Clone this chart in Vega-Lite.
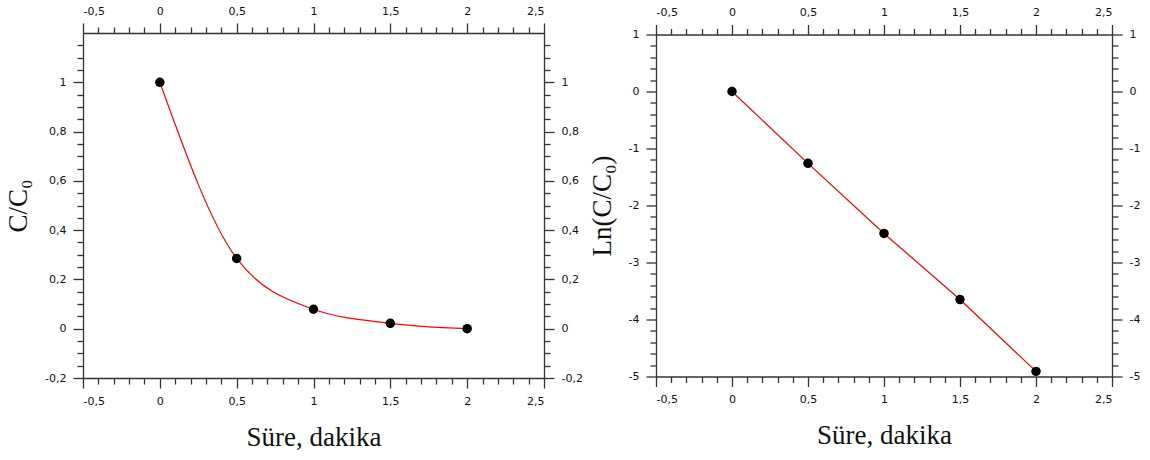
{
  "$schema": "https://vega.github.io/schema/vega-lite/v6.json",
  "background": "white",
  "autosize": {"type": "pad"},
  "padding": {"left": 4, "top": 5, "right": 0, "bottom": 0},
  "spacing": 5,
  "center": true,
  "config": {
    "view": {"stroke": null},
    "axis": {
      "grid": false,
      "domainColor": "#333333",
      "domainWidth": 1.3,
      "tickColor": "#333333",
      "tickWidth": 1.3,
      "labelColor": "#111111",
      "labelFont": "DejaVu Sans",
      "labelFontSize": 11,
      "labelPadding": 7,
      "titleFont": "Liberation Serif",
      "titleFontSize": 27,
      "titleFontWeight": "normal",
      "titleColor": "#111111"
    }
  },
  "datasets": {
    "decay": [
      {"t": 0, "c": 1.0},
      {"t": 0.5, "c": 0.285},
      {"t": 1, "c": 0.079},
      {"t": 1.5, "c": 0.022},
      {"t": 2, "c": 0.0}
    ],
    "lnDecay": [
      {"t": 0, "ln": 0.0},
      {"t": 0.5, "ln": -1.26},
      {"t": 1, "ln": -2.49},
      {"t": 1.5, "ln": -3.65},
      {"t": 2, "ln": -4.91}
    ]
  },
  "hconcat": [
    {
      "width": 461,
      "height": 345,
      "data": {"name": "decay"},
      "resolve": {"axis": {"x": "independent", "y": "independent"}},
      "layer": [
        {
          "mark": {"type": "line", "color": "#ff0000", "strokeWidth": 1.2, "interpolate": "monotone"},
          "encoding": {
            "x": {
              "field": "t", "type": "quantitative",
              "scale": {"domain": [-0.5, 2.5], "nice": false, "zero": false},
              "axis": {
                "orient": "bottom", "values": [-0.5, 0, 0.5, 1, 1.5, 2, 2.5], "tickSize": 10,
                "labelExpr": "replace(toString(datum.value), '.', ',')",
                "title": "Süre, dakika", "titlePadding": 18
              }
            },
            "y": {
              "field": "c", "type": "quantitative",
              "scale": {"domain": [-0.2, 1.2], "nice": false, "zero": false},
              "axis": {
                "orient": "left", "values": [-0.2, 0, 0.2, 0.4, 0.6, 0.8, 1], "tickSize": 10,
                "labelExpr": "replace(toString(datum.value), '.', ',')",
                "title": "C/C₀", "titlePadding": 12
              }
            }
          }
        },
        {
          "mark": {"type": "point", "filled": true, "color": "#000000", "opacity": 1, "size": 90},
          "encoding": {
            "x": {
              "field": "t", "type": "quantitative",
              "scale": {"domain": [-0.5, 2.5], "nice": false, "zero": false},
              "axis": {
                "orient": "top", "values": [-0.5, 0, 0.5, 1, 1.5, 2, 2.5], "tickSize": 10,
                "labelExpr": "replace(toString(datum.value), '.', ',')", "title": null
              }
            },
            "y": {
              "field": "c", "type": "quantitative",
              "scale": {"domain": [-0.2, 1.2], "nice": false, "zero": false},
              "axis": {
                "orient": "right", "values": [-0.2, 0, 0.2, 0.4, 0.6, 0.8, 1], "tickSize": 10,
                "labelExpr": "replace(toString(datum.value), '.', ',')", "title": null
              }
            }
          }
        },
        {
          "mark": {"type": "point", "opacity": 0},
          "encoding": {
            "x": {
              "field": "t", "type": "quantitative",
              "scale": {"domain": [-0.5, 2.5], "nice": false, "zero": false},
              "axis": {
                "orient": "bottom", "domain": false, "labels": false, "title": null, "tickSize": 6,
                "values": [-0.4, -0.3, -0.2, -0.1, 0.1, 0.2, 0.3, 0.4, 0.6, 0.7, 0.8, 0.9, 1.1, 1.2, 1.3, 1.4, 1.6, 1.7, 1.8, 1.9, 2.1, 2.2, 2.3, 2.4]
              }
            },
            "y": {
              "field": "c", "type": "quantitative",
              "scale": {"domain": [-0.2, 1.2], "nice": false, "zero": false},
              "axis": {
                "orient": "left", "domain": false, "labels": false, "title": null, "tickSize": 6,
                "values": [-0.15, -0.1, -0.05, 0.05, 0.1, 0.15, 0.25, 0.3, 0.35, 0.45, 0.5, 0.55, 0.65, 0.7, 0.75, 0.85, 0.9, 0.95, 1.05, 1.1, 1.15]
              }
            }
          }
        },
        {
          "mark": {"type": "point", "opacity": 0},
          "encoding": {
            "x": {
              "field": "t", "type": "quantitative",
              "scale": {"domain": [-0.5, 2.5], "nice": false, "zero": false},
              "axis": {
                "orient": "top", "domain": false, "labels": false, "title": null, "tickSize": 6,
                "values": [-0.4, -0.3, -0.2, -0.1, 0.1, 0.2, 0.3, 0.4, 0.6, 0.7, 0.8, 0.9, 1.1, 1.2, 1.3, 1.4, 1.6, 1.7, 1.8, 1.9, 2.1, 2.2, 2.3, 2.4]
              }
            },
            "y": {
              "field": "c", "type": "quantitative",
              "scale": {"domain": [-0.2, 1.2], "nice": false, "zero": false},
              "axis": {
                "orient": "right", "domain": false, "labels": false, "title": null, "tickSize": 6,
                "values": [-0.15, -0.1, -0.05, 0.05, 0.1, 0.15, 0.25, 0.3, 0.35, 0.45, 0.5, 0.55, 0.65, 0.7, 0.75, 0.85, 0.9, 0.95, 1.05, 1.1, 1.15]
              }
            }
          }
        }
      ]
    },
    {
      "width": 456,
      "height": 342,
      "data": {"name": "lnDecay"},
      "resolve": {"axis": {"x": "independent", "y": "independent"}},
      "layer": [
        {
          "mark": {"type": "line", "color": "#ff0000", "strokeWidth": 1.2},
          "encoding": {
            "x": {
              "field": "t", "type": "quantitative",
              "scale": {"domain": [-0.5, 2.5], "nice": false, "zero": false},
              "axis": {
                "orient": "bottom", "values": [-0.5, 0, 0.5, 1, 1.5, 2, 2.5], "tickSize": 10,
                "labelExpr": "replace(toString(datum.value), '.', ',')",
                "title": "Süre, dakika", "titlePadding": 18
              }
            },
            "y": {
              "field": "ln", "type": "quantitative",
              "scale": {"domain": [-5, 1], "nice": false, "zero": false},
              "axis": {
                "orient": "left", "values": [-5, -4, -3, -2, -1, 0, 1], "tickSize": 10,
                "labelExpr": "toString(datum.value)",
                "title": "Ln(C/C₀)", "titlePadding": 12
              }
            }
          }
        },
        {
          "mark": {"type": "point", "filled": true, "color": "#000000", "opacity": 1, "size": 90},
          "encoding": {
            "x": {
              "field": "t", "type": "quantitative",
              "scale": {"domain": [-0.5, 2.5], "nice": false, "zero": false},
              "axis": {
                "orient": "top", "values": [-0.5, 0, 0.5, 1, 1.5, 2, 2.5], "tickSize": 10,
                "labelExpr": "replace(toString(datum.value), '.', ',')", "title": null
              }
            },
            "y": {
              "field": "ln", "type": "quantitative",
              "scale": {"domain": [-5, 1], "nice": false, "zero": false},
              "axis": {
                "orient": "right", "values": [-5, -4, -3, -2, -1, 0, 1], "tickSize": 10,
                "labelExpr": "toString(datum.value)", "title": null
              }
            }
          }
        },
        {
          "mark": {"type": "point", "opacity": 0},
          "encoding": {
            "x": {
              "field": "t", "type": "quantitative",
              "scale": {"domain": [-0.5, 2.5], "nice": false, "zero": false},
              "axis": {
                "orient": "bottom", "domain": false, "labels": false, "title": null, "tickSize": 6,
                "values": [-0.4, -0.3, -0.2, -0.1, 0.1, 0.2, 0.3, 0.4, 0.6, 0.7, 0.8, 0.9, 1.1, 1.2, 1.3, 1.4, 1.6, 1.7, 1.8, 1.9, 2.1, 2.2, 2.3, 2.4]
              }
            },
            "y": {
              "field": "ln", "type": "quantitative",
              "scale": {"domain": [-5, 1], "nice": false, "zero": false},
              "axis": {
                "orient": "left", "domain": false, "labels": false, "title": null, "tickSize": 6,
                "values": [-4.8, -4.6, -4.4, -4.2, -3.8, -3.6, -3.4, -3.2, -2.8, -2.6, -2.4, -2.2, -1.8, -1.6, -1.4, -1.2, -0.8, -0.6, -0.4, -0.2, 0.2, 0.4, 0.6, 0.8]
              }
            }
          }
        },
        {
          "mark": {"type": "point", "opacity": 0},
          "encoding": {
            "x": {
              "field": "t", "type": "quantitative",
              "scale": {"domain": [-0.5, 2.5], "nice": false, "zero": false},
              "axis": {
                "orient": "top", "domain": false, "labels": false, "title": null, "tickSize": 6,
                "values": [-0.4, -0.3, -0.2, -0.1, 0.1, 0.2, 0.3, 0.4, 0.6, 0.7, 0.8, 0.9, 1.1, 1.2, 1.3, 1.4, 1.6, 1.7, 1.8, 1.9, 2.1, 2.2, 2.3, 2.4]
              }
            },
            "y": {
              "field": "ln", "type": "quantitative",
              "scale": {"domain": [-5, 1], "nice": false, "zero": false},
              "axis": {
                "orient": "right", "domain": false, "labels": false, "title": null, "tickSize": 6,
                "values": [-4.8, -4.6, -4.4, -4.2, -3.8, -3.6, -3.4, -3.2, -2.8, -2.6, -2.4, -2.2, -1.8, -1.6, -1.4, -1.2, -0.8, -0.6, -0.4, -0.2, 0.2, 0.4, 0.6, 0.8]
              }
            }
          }
        }
      ]
    }
  ]
}
